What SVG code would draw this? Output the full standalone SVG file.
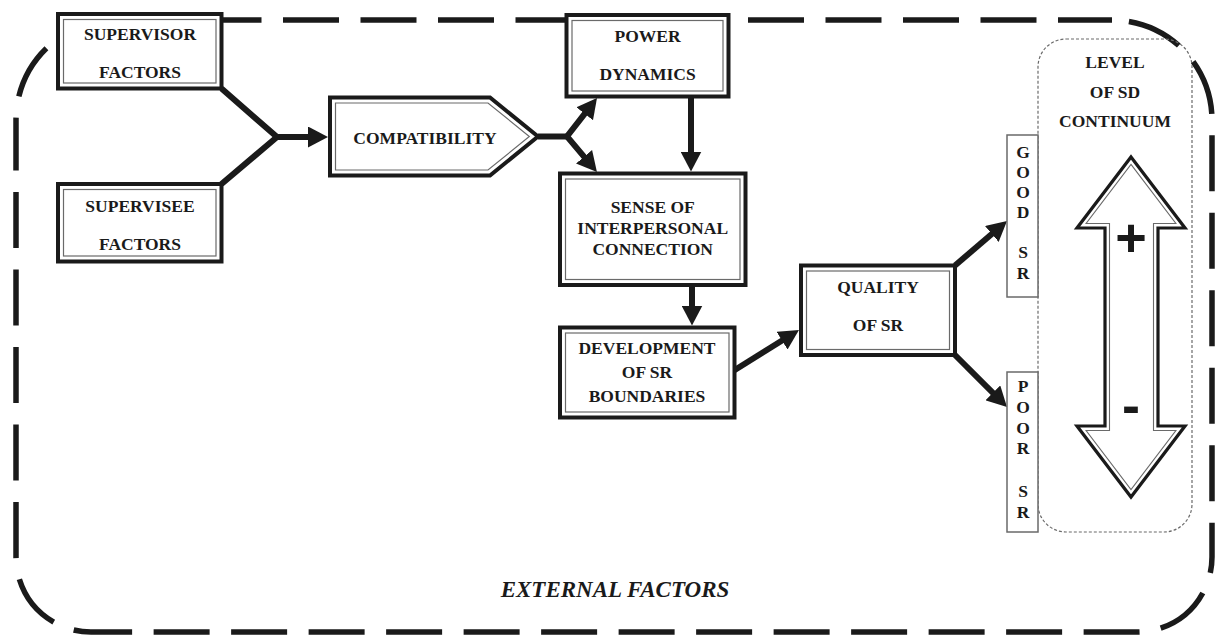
<svg xmlns="http://www.w3.org/2000/svg" width="1218" height="637" viewBox="0 0 1218 637">
  <style>
    .frame { fill: none; stroke: #1a1a1a; stroke-width: 5.5; stroke-dasharray: 56 21.5; }
    .box-outer { fill: #fff; stroke: #1a1a1a; stroke-width: 4; stroke-linejoin: miter; }
    .box-inner { fill: none; stroke: #6a6a6a; stroke-width: 1.2; }
    .slim-box { fill: #fff; stroke: #6a6a6a; stroke-width: 1.5; }
    .dotted { fill: none; stroke: #6a6a6a; stroke-width: 1.2; stroke-dasharray: 3 2; }
    .conn { fill: none; stroke: #1a1a1a; stroke-width: 6; stroke-linejoin: miter; }
    .lbl { font-family: "Liberation Serif", "Times New Roman", serif; font-weight: bold; font-size: 17.5px; fill: #1a1a1a; text-anchor: middle; }
    .ext { font-family: "Liberation Serif", "Times New Roman", serif; font-weight: bold; font-style: italic; font-size: 23px; fill: #1a1a1a; text-anchor: middle; }
    .sign { font-family: "Liberation Sans", Arial, sans-serif; font-weight: bold; font-size: 54px; fill: #1a1a1a; text-anchor: middle; }
    .big-arrow-outer { fill: #fff; stroke: #1a1a1a; stroke-width: 3.2; stroke-linejoin: miter; }
    .big-arrow-inner { fill: none; stroke: #6a6a6a; stroke-width: 1.1; stroke-linejoin: miter; }
  </style>
  <defs>
    <marker id="head" viewBox="0 0 20 21" refX="10" refY="10.5" markerWidth="20" markerHeight="21" markerUnits="userSpaceOnUse" orient="auto-start-reverse">
      <path d="M0,0 L20,10.5 L0,21 Z" fill="#1a1a1a"/>
    </marker>
  </defs>

  <rect width="1218" height="637" fill="#fff"/>

  <!-- external factors boundary -->
  <g id="external-frame">
    <path class="frame" d="M16,120 A100,100 0 0 1 116,20" stroke-dashoffset="53.5"/>
    <path class="frame" d="M116,20 H1112" stroke-dashoffset="65.5"/>
    <path class="frame" d="M1112,20 A100,100 0 0 1 1212,120 V557" stroke-dashoffset="60.5"/>
    <path class="frame" d="M1212,557 A75,75 0 0 1 1137,632 H91" stroke-dashoffset="40"/>
    <path class="frame" d="M91,632 A75,75 0 0 1 16,557 V120" stroke-dashoffset="38.5"/>
    <text class="ext" x="615" y="597">EXTERNAL FACTORS</text>
  </g>

  <!-- SD continuum panel -->
  <g id="sd-continuum">
    <rect class="dotted" x="1038" y="39" width="154" height="493" rx="28" ry="28"/>
    <text class="lbl" x="1115" y="68">LEVEL</text>
    <text class="lbl" x="1115" y="98">OF SD</text>
    <text class="lbl" x="1115" y="127">CONTINUUM</text>
    <polygon class="big-arrow-outer" points="1131,157 1185,228 1158,228 1158,426 1185,426 1131,497 1077,426 1105,426 1105,228 1077,228"/>
    <polygon class="big-arrow-inner" points="1131,164.4 1175.9,223.5 1153.5,223.5 1153.5,430.5 1175.9,430.5 1131,489.6 1086.1,430.5 1109.5,430.5 1109.5,223.5 1086.1,223.5"/>
    <text class="sign" x="1131" y="256">+</text>
    <text class="sign" x="1131" y="424">-</text>
  </g>

  <!-- connectors -->
  <g id="connectors">
    <path class="conn" d="M221.5,88.5 L277,137 L221.5,184"/>
    <path class="conn" d="M277,137 H318" marker-end="url(#head)"/>
    <path class="conn" d="M538,136.5 H569"/>
    <path class="conn" d="M590.85,105.9 L567,136.5 L590.5,164.4" marker-start="url(#head)" marker-end="url(#head)"/>
    <path class="conn" d="M691,98 V161.5" marker-end="url(#head)"/>
    <path class="conn" d="M692,287 V315.5" marker-end="url(#head)"/>
    <path class="conn" d="M734,370.5 L790.5,335.3" marker-end="url(#head)"/>
    <path class="conn" d="M955,265.5 L999.4,227.5" marker-end="url(#head)"/>
    <path class="conn" d="M955,355 L999.9,399.9" marker-end="url(#head)"/>
  </g>

  <g id="supervisor-factors">
    <rect class="box-outer" x="58" y="14" width="163.5" height="74.5"/>
    <rect class="box-inner" x="63.5" y="19.5" width="152.5" height="63.5"/>
    <text class="lbl" x="140" y="40">SUPERVISOR</text>
    <text class="lbl" x="140" y="78">FACTORS</text>
  </g>

  <g id="supervisee-factors">
    <rect class="box-outer" x="58" y="184" width="163.5" height="77.5"/>
    <rect class="box-inner" x="63.5" y="189.5" width="152.5" height="66.5"/>
    <text class="lbl" x="140" y="212">SUPERVISEE</text>
    <text class="lbl" x="140" y="250">FACTORS</text>
  </g>

  <g id="compatibility">
    <polygon class="box-outer" points="330,97.5 490,97.5 538,136.5 490,175.5 330,175.5"/>
    <polygon class="box-inner" points="335.5,103 488,103 529.3,136.5 488,170 335.5,170"/>
    <text class="lbl" x="425" y="144">COMPATIBILITY</text>
  </g>

  <g id="power-dynamics">
    <rect class="box-outer" x="566.5" y="15" width="162" height="81.5"/>
    <rect class="box-inner" x="572" y="20.5" width="151" height="70.5"/>
    <text class="lbl" x="647.5" y="42">POWER</text>
    <text class="lbl" x="647.5" y="80">DYNAMICS</text>
  </g>

  <g id="interpersonal-connection">
    <rect class="box-outer" x="560" y="173.5" width="185.5" height="111.5"/>
    <rect class="box-inner" x="565.5" y="179" width="174.5" height="100.5"/>
    <text class="lbl" x="652.7" y="213.3">SENSE OF</text>
    <text class="lbl" x="652.7" y="233.5">INTERPERSONAL</text>
    <text class="lbl" x="652.7" y="255">CONNECTION</text>
  </g>

  <g id="sr-boundaries">
    <rect class="box-outer" x="560" y="327.5" width="174.5" height="90"/>
    <rect class="box-inner" x="565.5" y="333" width="163.5" height="79"/>
    <text class="lbl" x="647" y="354">DEVELOPMENT</text>
    <text class="lbl" x="647" y="378">OF SR</text>
    <text class="lbl" x="647" y="401.7">BOUNDARIES</text>
  </g>

  <g id="quality-of-sr">
    <rect class="box-outer" x="801" y="265.5" width="154" height="89.5"/>
    <rect class="box-inner" x="806.5" y="271" width="143" height="78.5"/>
    <text class="lbl" x="878" y="293.3">QUALITY</text>
    <text class="lbl" x="878" y="330.7">OF SR</text>
  </g>

  <g id="good-sr">
    <rect class="slim-box" x="1007" y="135" width="31" height="162"/>
    <text class="lbl" x="1023" y="158">G</text>
    <text class="lbl" x="1023" y="178">O</text>
    <text class="lbl" x="1023" y="198">O</text>
    <text class="lbl" x="1023" y="218">D</text>
    <text class="lbl" x="1023" y="258">S</text>
    <text class="lbl" x="1023" y="279">R</text>
  </g>

  <g id="poor-sr">
    <rect class="slim-box" x="1007" y="372" width="31" height="160"/>
    <text class="lbl" x="1023" y="392">P</text>
    <text class="lbl" x="1023" y="413">O</text>
    <text class="lbl" x="1023" y="434">O</text>
    <text class="lbl" x="1023" y="454">R</text>
    <text class="lbl" x="1023" y="497">S</text>
    <text class="lbl" x="1023" y="518">R</text>
  </g>
</svg>
